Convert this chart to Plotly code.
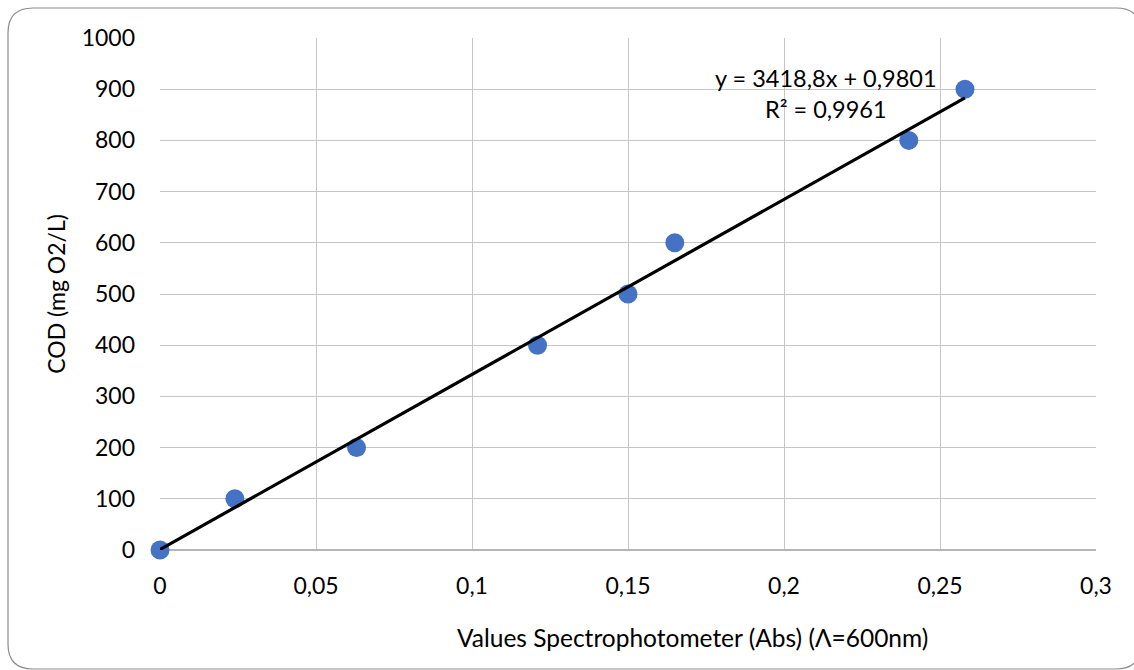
import plotly.graph_objects as go

# Data
absorbance = [0, 0.024, 0.063, 0.121, 0.150, 0.165, 0.240, 0.258]
cod = [0, 100, 200, 400, 500, 600, 800, 900]
trend_slope = 3418.8
trend_intercept = 0.9801
r_squared = 0.9961
x_tickvals = [0, 0.05, 0.1, 0.15, 0.2, 0.25, 0.3]
x_ticktext = ["0", "0,05", "0,1", "0,15", "0,2", "0,25", "0,3"]
y_tickvals = [0, 100, 200, 300, 400, 500, 600, 700, 800, 900, 1000]
y_ticktext = [str(v) for v in y_tickvals]
x_title = "Values Spectrophotometer (Abs) (Λ=600nm)"
y_title = "COD (mg O2/L)"

W, H = 1134, 670
ML, MR, MT, MB = 160, 38, 38, 120
PW, PH = W - ML - MR, H - MT - MB

def px(xp):
    return (xp - ML) / PW

def py(yp):
    return (H - MB - yp) / PH

font = "Lato, Open Sans, sans-serif"

trend_x = [0, max(absorbance)]
trend_y = [trend_slope * v + trend_intercept for v in trend_x]

fig = go.Figure()
fig.add_trace(go.Scatter(
    x=absorbance, y=cod, mode="markers",
    marker=dict(size=19, color="#4472C4"),
    showlegend=False, cliponaxis=False,
))
fig.add_trace(go.Scatter(
    x=trend_x, y=trend_y, mode="lines",
    line=dict(color="black", width=3.2),
    showlegend=False,
))

# rounded outer border
x0, y0, x1, y1, r = px(8), py(8), px(1141), py(669), 25 / PW
ry = 25 / PH
path = (f"M {x0+r},{y0} L {x1-r},{y0} Q {x1},{y0} {x1},{y0-ry} "
        f"L {x1},{y1+ry} Q {x1},{y1} {x1-r},{y1} "
        f"L {x0+r},{y1} Q {x0},{y1} {x0},{y1+ry} "
        f"L {x0},{y0-ry} Q {x0},{y0} {x0+r},{y0} Z")
fig.add_shape(type="path", path=path, xref="paper", yref="paper",
              line=dict(color="#8c8c8c", width=1.2), layer="below")

fig.add_annotation(
    x=px(826), y=py(93), xref="paper", yref="paper",
    xanchor="center", yanchor="middle",
    text=f"y = {str(trend_slope).replace('.', ',')}x + {str(trend_intercept).replace('.', ',')}"
         f"<br>R² = {str(r_squared).replace('.', ',')}",
    showarrow=False, align="center",
    font=dict(family=font, size=23.5, color="black"),
)

# x axis title (offset to the right as in the reference)
fig.add_annotation(
    x=px(692), y=py(637), xref="paper", yref="paper",
    xanchor="center", yanchor="middle",
    text=x_title, showarrow=False,
    font=dict(family=font, size=24.5, color="black"),
)

fig.update_layout(
    width=W, height=H,
    margin=dict(l=ML, r=MR, t=MT, b=MB),
    paper_bgcolor="white", plot_bgcolor="white",
    font=dict(family=font, size=23, color="black"),
    xaxis=dict(
        range=[0, 0.3], tickvals=x_tickvals, ticktext=x_ticktext,
        showgrid=True, gridcolor="#c6c6c6", gridwidth=1,
        zeroline=False, showline=False,
        ticks="", ticklabelstandoff=20,
        tickfont=dict(family=font, size=23),
    ),
    yaxis=dict(
        range=[0, 1000], tickvals=y_tickvals, ticktext=y_ticktext,
        showgrid=True, gridcolor="#c6c6c6", gridwidth=1,
        zeroline=True, zerolinecolor="#b5b5b5", zerolinewidth=2,
        showline=False, ticks="", ticklabelstandoff=24,
        tickfont=dict(family=font, size=23),
        title=dict(text=y_title,
                   font=dict(family=font, size=23), standoff=9),
    ),
)

fig.write_html("out.html")
